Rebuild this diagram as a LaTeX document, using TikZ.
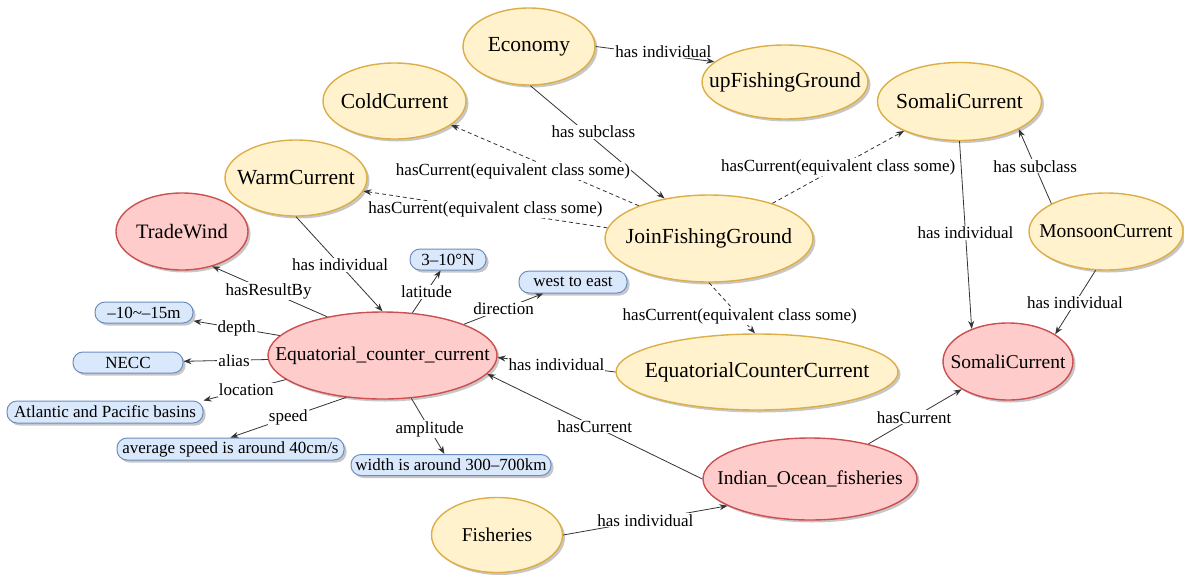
\documentclass[tikz,border=0pt]{standalone}
\usepackage{fontspec}
\setmainfont{Liberation Serif}
\usetikzlibrary{shapes.geometric,arrows.meta,shadows}
\definecolor{yfill}{HTML}{FFF2CC}
\definecolor{ydraw}{HTML}{DDAE45}
\definecolor{rfill}{HTML}{FFCCCC}
\definecolor{rdraw}{HTML}{CC5050}
\definecolor{bfill}{HTML}{DAE8FC}
\definecolor{bdraw}{HTML}{6C8EBF}
\definecolor{edgecol}{HTML}{333333}
\begin{document}
\begin{tikzpicture}[x=1pt,y=-1pt,
 shad/.style={drop shadow={shadow xshift=2.5pt,shadow yshift=-2.5pt,fill=black,opacity=0.22}},
 ell/.style={ellipse,inner sep=0pt,line width=1.4pt,shad},
 cls/.style={ell,draw=ydraw,fill=yfill},
 ind/.style={ell,draw=rdraw,fill=rfill},
 sz/.style 2 args={minimum width=#1pt,minimum height=#2pt},
 big/.style={font=\fontsize{21.5}{24}\selectfont},
 small/.style={font=\fontsize{19.5}{22}\selectfont},
 val/.style={rectangle,rounded corners=10pt,draw=bdraw,fill=bfill,line width=1pt,inner sep=0pt,shad,font=\fontsize{17}{19}\selectfont},
 lbl/.style={fill=white,inner sep=1pt,font=\fontsize{17}{19}\selectfont},
 rel/.style={draw=edgecol,line width=0.8pt,-{Stealth[length=8pt,width=6pt]}},
 eqv/.style={rel,dash pattern=on 4pt off 3pt}
]
\useasboundingbox (0,0) rectangle (1184,574);

% class nodes
\node[cls,big,sz={132}{77}] (economy) at (529,46.5) {\makebox[0pt]{Economy}};
\node[cls,big,sz={166}{74}] (upfg) at (785,82) {\makebox[0pt]{upFishingGround}};
\node[cls,big,sz={143}{76}] (cold) at (394.5,101) {\makebox[0pt]{ColdCurrent}};
\node[cls,big,sz={164}{78}] (somaliY) at (959.5,101.5) {\makebox[0pt]{SomaliCurrent}};
\node[cls,big,sz={142}{76}] (warm) at (296,178) {\makebox[0pt]{WarmCurrent}};
\node[cls,big,sz={208}{87}] (join) at (709,238.5) {\makebox[0pt]{JoinFishingGround}};
\node[cls,small,sz={154}{77}] (monsoon) at (1106,231.5) {\makebox[0pt]{MonsoonCurrent}};
\node[cls,big,sz={282}{76}] (ecc2) at (757,372) {\makebox[0pt]{EquatorialCounterCurrent}};
\node[cls,small,sz={131}{75}] (fisheries) at (497,535) {\makebox[0pt]{Fisheries}};

% individual nodes
\node[ind,font=\fontsize{20.5}{23}\selectfont,sz={132}{77}] (tradewind) at (182,231.5) {\makebox[0pt]{TradeWind}};
\node[ind,small,sz={229}{87}] (ecc) at (382.5,355.5) {\makebox[0pt]{Equatorial\_counter\_current}};
\node[ind,small,sz={130}{77}] (somaliR) at (1008,361.5) {\makebox[0pt]{SomaliCurrent}};
\node[ind,small,sz={214}{82}] (indian) at (810,479) {\makebox[0pt]{Indian\_Ocean\_fisheries}};

% value boxes
\node[val,sz={76}{21}] (lat) at (448,259.5) {\makebox[0pt]{3–10°N}};
\node[val,sz={108}{22}] (dirbox) at (573,282) {\makebox[0pt]{west to east}};
\node[val,sz={98}{21}] (depthbox) at (144,312.5) {\makebox[0pt]{–10\textasciitilde–15m}};
\node[val,sz={110}{21}] (necc) at (128,362.5) {\makebox[0pt]{NECC}};
\node[val,sz={196}{22}] (loc) at (105,412) {\makebox[0pt]{Atlantic and Pacific basins}};
\node[val,sz={227}{22}] (speedbox) at (230.5,449) {\makebox[0pt]{average speed is around 40cm/s}};
\node[val,sz={200}{21}] (amp) at (451,465) {\makebox[0pt]{width is around 300–700km}};

% connectors
\draw[rel] (economy.0) -- node[lbl,pos=0.57,yshift=4pt]{has individual} (upfg.164);
\draw[rel] (economy.-88) -- node[lbl,pos=0.41,xshift=8pt]{has subclass} (join.138.6);
\draw[eqv] (join.155) -- node[lbl,pos=0.43,xshift=-45pt]{hasCurrent(equivalent class some)} (cold.-23.9);
\draw[eqv] (join.174.2) -- node[lbl,pos=0.5]{hasCurrent(equivalent class some)} (warm.-11.2);
\draw[eqv] (join.29) -- node[lbl,pos=0.5]{hasCurrent(equivalent class some)} (somaliY.-152.4);
\draw[eqv] (join.-90) -- node[lbl,pos=0.67]{hasCurrent(equivalent class some)} (ecc2.93);
\draw[rel] (warm.-90) -- node[lbl,pos=0.51]{has individual} (ecc.90);
\draw[rel] (somaliY.-90) -- node[lbl,pos=0.49]{has individual} (somaliR.138.6);
\draw[rel] (monsoon.153.4) -- node[lbl,pos=0.5]{has subclass} (somaliY.-25.6);
\draw[rel] (monsoon.-105.6) -- node[lbl,pos=0.51]{has individual} (somaliR.30.3);
\draw[rel] (ecc2.180) -- node[lbl,pos=0.5]{has individual} (ecc.-1);
\draw[rel] (indian.180) -- node[lbl,pos=0.5]{hasCurrent} (ecc.-10.7);
\draw[rel] (indian.31.8) -- node[lbl,pos=0.49]{hasCurrent} (somaliR.-149.1);
\draw[rel] (fisheries.0) -- node[lbl,pos=0.5]{has individual} (indian.-162.4);
\draw[rel] (ecc.145.5) -- node[lbl,pos=0.51]{hasResultBy} (tradewind.-49.8);
\draw[rel] (ecc.169.8) -- node[lbl,pos=0.5]{depth} (depthbox);
\draw[rel] (ecc.182) -- node[lbl,pos=0.4]{alias} (necc);
\draw[rel] (ecc.194.7) -- node[lbl,pos=0.48]{location} (loc.north east);
\draw[rel] (ecc.229) -- node[lbl,pos=0.5]{speed} (speedbox.north);
\draw[rel] (ecc.-56) -- node[lbl,pos=0.55]{amplitude} (amp);
\draw[rel] (ecc.55.2) -- node[lbl,pos=0.5]{latitude} (lat);
\draw[rel] (ecc.21.4) -- node[lbl,pos=0.5]{direction} (dirbox);
\end{tikzpicture}
\end{document}
